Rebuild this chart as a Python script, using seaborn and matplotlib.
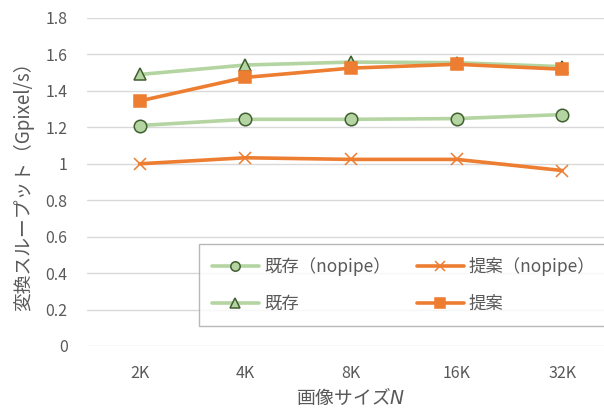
import matplotlib
matplotlib.use('Agg')
import matplotlib.pyplot as plt
import pandas as pd
import seaborn as sns

# data
sizes = ['2K', '4K', '8K', '16K', '32K']
kizon_nopipe = [1.21, 1.244, 1.244, 1.248, 1.27]
teian_nopipe = [1.00, 1.033, 1.024, 1.024, 0.963]
kizon = [1.49, 1.542, 1.558, 1.555, 1.533]
teian = [1.345, 1.474, 1.525, 1.546, 1.519]

series_names = ['既存（nopipe）', '提案（nopipe）', '既存', '提案']
series_vals = [kizon_nopipe, teian_nopipe, kizon, teian]

GREEN = '#B4D5A2'
GREEN_EDGE = '#3F5F2F'
ORANGE = '#ED7D31'
TXT = '#595959'

sns.set_theme(style='white')
plt.rcParams['font.family'] = ['Noto Sans CJK JP', 'DejaVu Sans']
plt.rcParams['mathtext.fontset'] = 'custom'
plt.rcParams['mathtext.it'] = 'DejaVu Sans:italic'

fig = plt.figure(figsize=(6.04, 4.12), dpi=100)
ax = fig.add_axes([87 / 604, 66 / 412, 528 / 604, 328 / 412])

styles = {
    '既存（nopipe）': dict(color=GREEN, marker='o', mfc=GREEN, mec=GREEN_EDGE, ms=9, mew=1.1),
    '提案（nopipe）': dict(color=ORANGE, marker='x', mfc=ORANGE, mec=ORANGE, ms=9, mew=1.1),
    '既存': dict(color=GREEN, marker='^', mfc=GREEN, mec=GREEN_EDGE, ms=9, mew=1.1),
    '提案': dict(color=ORANGE, marker='s', mfc=ORANGE, mec=ORANGE, ms=9, mew=1.1),
}

for name, vals in zip(series_names, series_vals):
    df = pd.DataFrame({'size': sizes, 'val': vals})
    st = styles[name]
    sns.lineplot(data=df, x='size', y='val', ax=ax, sort=False, lw=2.6, label=name,
                 color=st['color'], marker=st['marker'], markerfacecolor=st['mfc'],
                 markeredgecolor=st['mec'], markersize=st['ms'], markeredgewidth=st['mew'])

ax.set_xlim(-0.5, 4.5)
ax.set_ylim(0, 1.8)
ax.set_yticks([0, 0.2, 0.4, 0.6, 0.8, 1, 1.2, 1.4, 1.6, 1.8])
ax.set_yticklabels(['0', '0.2', '0.4', '0.6', '0.8', '1', '1.2', '1.4', '1.6', '1.8'])
ax.grid(axis='y', color='#D9D9D9', lw=1)
ax.set_axisbelow(True)
for s in ax.spines.values():
    s.set_visible(False)
ax.tick_params(axis='both', length=0, labelsize=11.5, colors=TXT)
ax.tick_params(axis='y', pad=14)
ax.tick_params(axis='x', pad=14)

ax.set_xlabel('画像サイズ$N$', fontsize=13.5, color=TXT, labelpad=4)
ax.set_ylabel('変換スループット（Gpixel/s）', fontsize=13.5, color=TXT, labelpad=8)

h, l = ax.get_legend_handles_labels()
order = [0, 2, 1, 3]
leg = ax.legend([h[i] for i in order], [l[i] for i in order], ncol=2,
                loc='upper left', bbox_to_anchor=(199 / 604, 168 / 412),
                bbox_transform=fig.transFigure, borderaxespad=0,
                frameon=True, fancybox=False, edgecolor='#A6A6A6',
                fontsize=12.5, handlelength=2.7, handletextpad=0.3, markerscale=0.75,
                columnspacing=1.5, labelspacing=1.1, borderpad=0.75)
leg.get_frame().set_linewidth(1.0)
for t in leg.get_texts():
    t.set_color(TXT)

fig.savefig('out.png', dpi=100)
